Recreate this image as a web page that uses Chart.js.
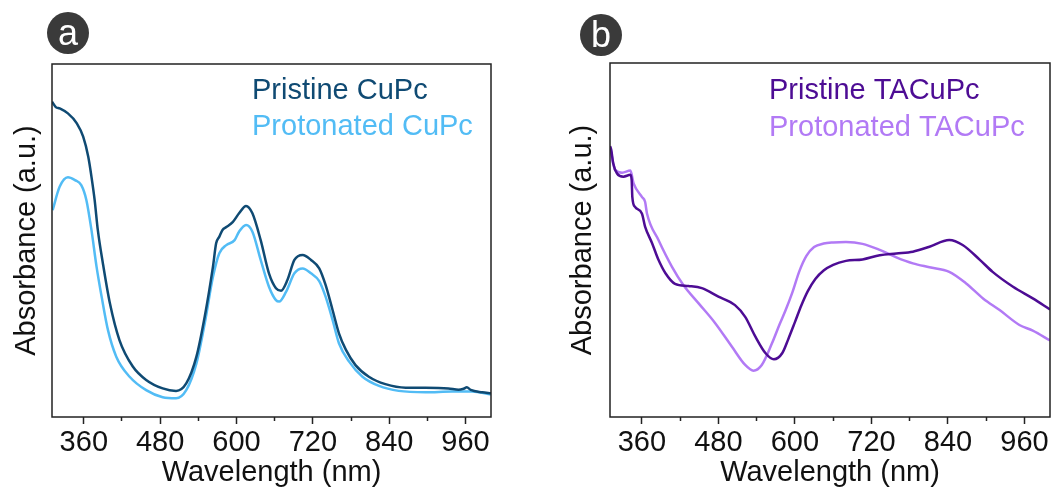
<!DOCTYPE html>
<html>
<head>
<meta charset="utf-8">
<script src="https://cdn.jsdelivr.net/npm/chart.js@4.4.1/dist/chart.umd.min.js"></script>
<style>
  body { margin: 0; background: #fff; }
  #wrap { position: relative; width: 1052px; height: 492px; overflow: hidden; background: #fff; }
  .panel { position: absolute; top: 0; }
  .badge { position: absolute; width: 42px; height: 42px; border-radius: 50%; background: #3a3a3a; color: #fff;
           font: 36px "Liberation Sans", Arial, sans-serif; text-align: center; line-height: 42px; }
</style>
</head>
<body>
<div id="wrap">
  <canvas id="chartA" class="panel" width="526" height="492" style="left:0"></canvas>
  <canvas id="chartB" class="panel" width="526" height="492" style="left:526px"></canvas>
  <div class="badge" style="left:47px;top:12px">a</div>
  <div class="badge" style="left:580px;top:14px">b</div>
</div>
<script>
// x axis range (nm)
const X_MIN = 310;
const X_MAX = 1000;

// (a) CuPc
const pristineCuPcNm = [310, 316, 322, 335, 349, 359, 367, 372, 377, 382, 390, 401, 416, 437, 458, 484, 505, 521, 537, 550,
  563, 568, 573, 578, 584, 594, 604, 615, 625, 638, 651, 662, 670, 680, 691, 704, 717, 730, 740, 751,
  761, 772, 787, 808, 834, 866, 897, 933, 949, 957, 962, 968, 986, 1000];
const pristineCuPcAbs = [0.893, 0.878, 0.874, 0.860, 0.832, 0.794, 0.737, 0.681, 0.615, 0.530, 0.435, 0.322, 0.218, 0.143, 0.105, 0.081, 0.074, 0.095, 0.171, 0.284,
  0.426, 0.492, 0.511, 0.530, 0.538, 0.552, 0.577, 0.598, 0.577, 0.501, 0.407, 0.365, 0.358, 0.388, 0.445, 0.459, 0.445, 0.421, 0.374, 0.303,
  0.237, 0.190, 0.147, 0.114, 0.093, 0.083, 0.083, 0.081, 0.077, 0.080, 0.084, 0.077, 0.070, 0.067];

const protonCuPcNm = [311, 322, 335, 346, 356, 364, 372, 380, 388, 398, 411, 432, 458, 484, 505, 521, 537, 550, 563, 573,
  584, 597, 604, 615, 625, 638, 651, 662, 667, 678, 691, 704, 717, 730, 740, 751, 761, 777, 798, 824,
  855, 897, 939, 970, 1000];
const protonCuPcAbs = [0.586, 0.652, 0.679, 0.671, 0.657, 0.615, 0.530, 0.426, 0.341, 0.246, 0.171, 0.114, 0.076, 0.056, 0.053, 0.076, 0.152, 0.265, 0.397, 0.464,
  0.487, 0.501, 0.525, 0.544, 0.525, 0.445, 0.369, 0.331, 0.327, 0.355, 0.407, 0.421, 0.407, 0.385, 0.341, 0.275, 0.209, 0.157, 0.114, 0.088,
  0.074, 0.070, 0.072, 0.072, 0.064];

// (b) TACuPc
const pristineTaNm = [310, 312, 315, 321, 331, 342, 344, 345, 349, 360, 365, 376, 386, 397, 412, 433, 454, 480, 506, 522,
  538, 554, 567, 580, 590, 600, 610, 620, 632, 645, 660, 680, 706, 733, 759, 785, 811, 842, 863, 890,
  910, 942, 973, 1000];
const pristineTaAbs = [0.765, 0.754, 0.717, 0.688, 0.679, 0.684, 0.669, 0.622, 0.594, 0.575, 0.538, 0.491, 0.444, 0.406, 0.376, 0.370, 0.364, 0.340, 0.316, 0.283,
  0.227, 0.180, 0.163, 0.180, 0.222, 0.268, 0.315, 0.355, 0.390, 0.414, 0.430, 0.441, 0.445, 0.457, 0.462, 0.467, 0.481, 0.500, 0.486, 0.444,
  0.410, 0.368, 0.335, 0.304];

const protonTaNm = [310, 312, 318, 329, 342, 347, 360, 365, 368, 386, 407, 425, 449, 475, 501, 522, 535, 548, 564, 576,
  585, 596, 607, 618, 630, 645, 660, 680, 706, 733, 759, 785, 811, 842, 868, 895, 921, 952, 973, 1000];
const protonTaAbs = [0.765, 0.745, 0.698, 0.690, 0.696, 0.660, 0.622, 0.608, 0.575, 0.500, 0.425, 0.373, 0.321, 0.265, 0.199, 0.147, 0.131, 0.147, 0.208, 0.262,
  0.300, 0.352, 0.412, 0.455, 0.480, 0.490, 0.493, 0.494, 0.489, 0.472, 0.451, 0.434, 0.423, 0.410, 0.378, 0.335, 0.302, 0.260, 0.244, 0.216];

const FONT = '"Liberation Sans", Arial, sans-serif';
const INK = '#111';

// 外框（上、右两边也要画）
const framePlugin = {
  id: 'frame',
  afterDraw(chart, args, opts) {
    const { ctx, chartArea: a } = chart;
    ctx.save();
    ctx.strokeStyle = opts.color;
    ctx.lineWidth = opts.width;
    ctx.strokeRect(a.left, a.top, a.right - a.left, a.bottom - a.top);
    ctx.restore();
  }
};

// 图例：只有彩色文字，没有色块
const textLegend = {
  id: 'textLegend',
  afterDraw(chart, args, opts) {
    const { ctx, chartArea: a } = chart;
    ctx.save();
    ctx.font = opts.size + 'px ' + FONT;
    ctx.textBaseline = 'alphabetic';
    chart.data.datasets.forEach((ds, i) => {
      ctx.fillStyle = ds.borderColor;
      ctx.fillText(ds.label, a.left + opts.x, a.top + opts.y + i * opts.gap);
    });
    ctx.restore();
  }
};

function makeChart(id, series, L) {
  return new Chart(document.getElementById(id), {
    type: 'line',
    data: {
      datasets: series.map(s => ({
        label: s.label,
        data: s.nm.map((x, i) => ({ x: x, y: s.abs[i] })),
        borderColor: s.color,
        borderWidth: 2.5,
        pointRadius: 0,
        cubicInterpolationMode: 'monotone',
        fill: false
      }))
    },
    options: {
      responsive: false,
      animation: false,
      layout: { padding: { left: L.padLeft, right: L.padRight, top: L.padTop, bottom: 0 } },
      plugins: {
        legend: { display: false },
        tooltip: { enabled: false },
        frame: { color: '#222', width: 1.5 },
        textLegend: { x: L.legendX, y: L.legendY, gap: L.legendGap, size: 29 }
      },
      scales: {
        x: {
          type: 'linear',
          min: X_MIN,
          max: X_MAX,
          border: { display: false },
          grid: {
            drawOnChartArea: false,
            tickLength: 7,
            tickWidth: 1.5,
            tickColor: '#222',
            tickBorderDash: c => (c.tick && c.tick.value % 120 === 0) ? [] : [4, 30]
          },
          ticks: {
            stepSize: 60,
            includeBounds: false,
            autoSkip: false,
            maxRotation: 0,
            padding: 2,
            color: INK,
            font: { family: FONT, size: 29 },
            callback: v => (v % 120 === 0 ? String(v) : '')
          },
          title: {
            display: true,
            text: 'Wavelength (nm)',
            color: INK,
            font: { family: FONT, size: 29 },
            padding: { top: 0, bottom: 2 }
          },
          afterFit: s => { s.height = 75; }
        },
        y: {
          min: 0,
          max: 1,
          border: { display: false },
          grid: { display: false },
          ticks: { display: false },
          title: {
            display: true,
            text: 'Absorbance (a.u.)',
            color: INK,
            font: { family: FONT, size: 29 },
            padding: { top: L.yTitlePad, bottom: 0 }
          },
          afterFit: s => { s.width = 52; }
        }
      }
    },
    plugins: [framePlugin, textLegend]
  });
}

makeChart('chartA', [
  { label: 'Pristine CuPc', nm: pristineCuPcNm, abs: pristineCuPcAbs, color: '#0f4a73' },
  { label: 'Protonated CuPc', nm: protonCuPcNm, abs: protonCuPcAbs, color: '#52bcf5' }
], { padLeft: 0, padRight: 35, padTop: 64, yTitlePad: 9.6, legendX: 200, legendY: 35, legendGap: 36 });

makeChart('chartB', [
  { label: 'Pristine TACuPc', nm: pristineTaNm, abs: pristineTaAbs, color: '#4d0c94' },
  { label: 'Protonated TACuPc', nm: protonTaNm, abs: protonTaAbs, color: '#b27af5' }
], { padLeft: 32, padRight: 2, padTop: 63, yTitlePad: 7.6, legendX: 159, legendY: 36, legendGap: 37 });
</script>
</body>
</html>
